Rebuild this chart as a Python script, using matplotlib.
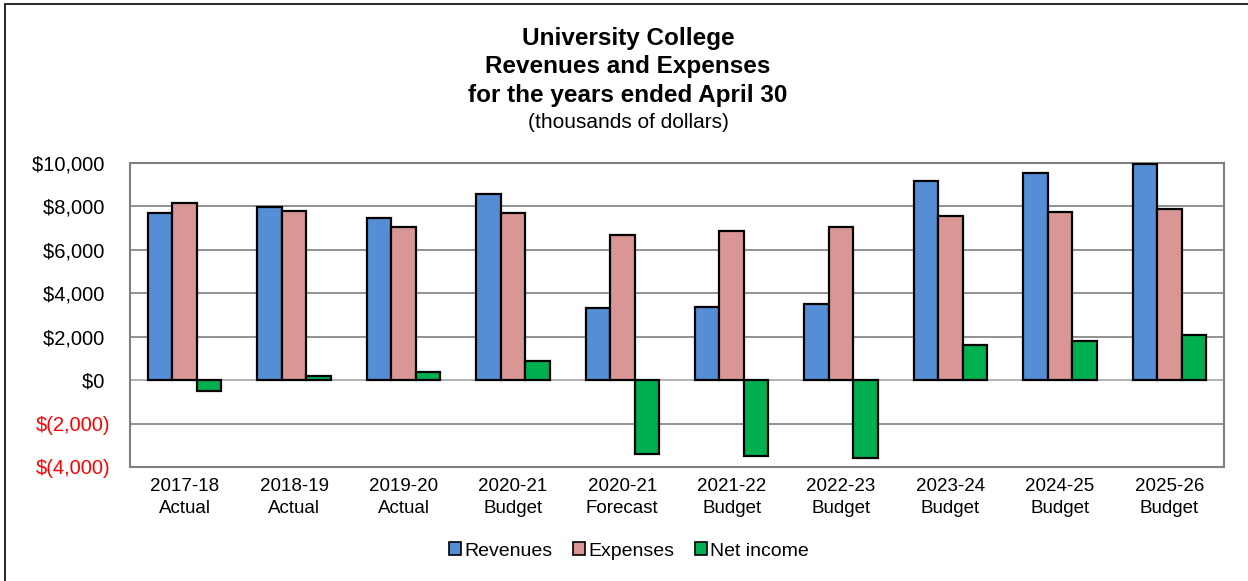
import matplotlib
matplotlib.use("Agg")
import matplotlib.pyplot as plt
import numpy as np
from matplotlib.patches import Rectangle

categories = ["2017-18\nActual", "2018-19\nActual", "2019-20\nActual", "2020-21\nBudget",
              "2020-21\nForecast", "2021-22\nBudget", "2022-23\nBudget", "2023-24\nBudget",
              "2024-25\nBudget", "2025-26\nBudget"]
revenues = [7720, 7970, 7460, 8580, 3310, 3370, 3490, 9185, 9550, 9935]
expenses = [8150, 7785, 7060, 7705, 6690, 6860, 7075, 7570, 7750, 7860]
net_income = [-490, 185, 385, 890, -3415, -3505, -3600, 1600, 1785, 2060]
yticks = [-4000, -2000, 0, 2000, 4000, 6000, 8000, 10000]

plt.rcParams['font.family'] = ['Liberation Sans', 'DejaVu Sans']

W, H = 1248, 581
fig = plt.figure(figsize=(W / 100, H / 100), dpi=100)
ax = fig.add_axes([130 / W, 1 - 467 / H, (1224 - 130) / W, (467 - 163) / H])

x = np.arange(len(categories))
bw = 0.224
colors = ["#558ED5", "#D99694", "#00B050"]
names = ["Revenues", "Expenses", "Net income"]
for i, (vals, c, n) in enumerate(zip([revenues, expenses, net_income], colors, names)):
    ax.bar(x + (i - 1) * bw, vals, bw, color=c, edgecolor="black", linewidth=1.6, label=n, zorder=3)

ax.set_xlim(-0.5, len(categories) - 0.5)
ax.set_ylim(-4000, 10000)
ax.set_yticks(yticks)

def fmt(v):
    if v < 0:
        return "$({:,})".format(-v)
    return "${:,} ".format(v)

ax.set_yticklabels([fmt(v) for v in yticks], fontsize=14.5)
for lbl, v in zip(ax.get_yticklabels(), yticks):
    if v < 0:
        lbl.set_color("red")
ax.tick_params(axis="y", length=0, pad=14.4)

ax.set_xticks(x)
ax.set_xticklabels(categories, fontsize=13.5, linespacing=1.35)
ax.tick_params(axis="x", length=0, pad=8)

for v in yticks:
    if v == 0:
        ax.axhline(v, color="#A6A6A6", lw=1.2, zorder=2)
    else:
        ax.axhline(v, color="#7F7F7F", lw=1.2, zorder=1)
for s in ax.spines.values():
    s.set_color("#7F7F7F")
    s.set_linewidth(1.5)

cx = 628 / W
fig.text(cx, 1 - 38 / H, "University College", ha="center", va="center",
         fontsize=17.5, fontweight="bold")
fig.text(cx, 1 - 67 / H, "Revenues and Expenses", ha="center", va="center",
         fontsize=17.5, fontweight="bold")
fig.text(cx, 1 - 95 / H, "for the years ended April 30", ha="center", va="center",
         fontsize=17.5, fontweight="bold")
fig.text(cx, 1 - 122 / H, "(thousands of dollars)", ha="center", va="center",
         fontsize=15)

leg = fig.legend(loc="center", bbox_to_anchor=(629 / W, 1 - 551 / H), ncol=3, frameon=False,
                 fontsize=14, handlelength=0.6, handleheight=0.6, handletextpad=0.15,
                 columnspacing=1.1)
for h in leg.legend_handles:
    h.set_linewidth(1.2)

fig.patches.append(Rectangle((5 / W, -0.1), 1.2, 1 - 4 / H + 0.1, transform=fig.transFigure,
                             fill=False, edgecolor="black", lw=1.2))

fig.savefig("out.png", dpi=100)
